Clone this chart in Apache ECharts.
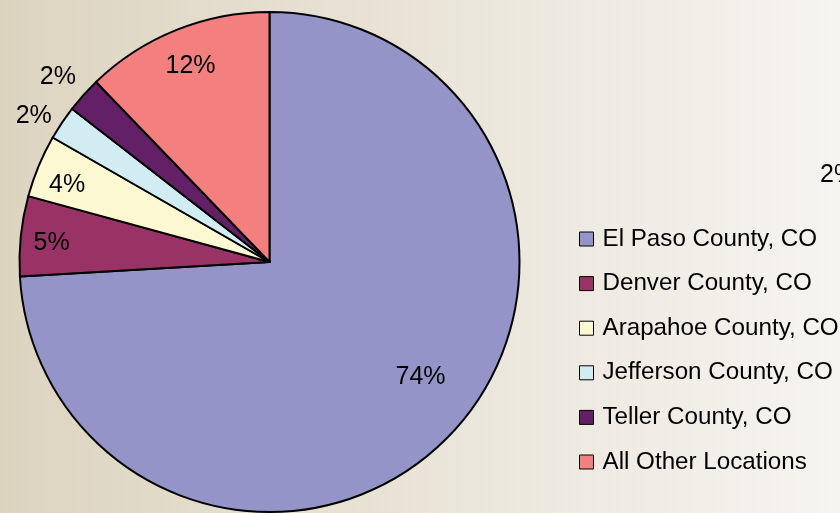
<!DOCTYPE html>
<html>
<head>
<meta charset="utf-8">
<script src="https://cdn.jsdelivr.net/npm/echarts@6/dist/echarts.min.js"></script>
<style>
html,body{margin:0;padding:0;}
#chart{width:840px;height:513px;}
</style>
</head>
<body>
<div id="chart"></div>
<script>
// ---- data ----
const categories = ['El Paso County, CO', 'Denver County, CO', 'Arapahoe County, CO', 'Jefferson County, CO', 'Teller County, CO', 'All Other Locations'];
const values = [74.06, 5.17, 4.05, 2.2, 2.3, 12.2];
const colors = ['#9494c8', '#993366', '#fcf9d2', '#d2ecf4', '#632066', '#f47f7f'];
const strayLabel = '2%';

// ---- layout (not data) ----
const CX = 269.5, CY = 262, R = 250;
const labelRadiusFactor = [0.76, 0.875, 0.866, 1.11, 1.124, 0.844];
const labelAngleShift = [-6, -1, -1.8, -2, -0.8, 0]; // degrees

const total = values.reduce((a, b) => a + b, 0);
const midAngles = [];
let acc = 0;
values.forEach(v => { midAngles.push((acc + v / 2) / total * 360); acc += v; });

const chart = echarts.init(document.getElementById('chart'));
chart.setOption({
  animation: false,
  backgroundColor: {
    type: 'linear', x: 0, y: 0, x2: 1, y2: 0,
    colorStops: [{offset: 0, color: '#ddd4c0'}, {offset: 1, color: '#f6f4f0'}]
  },
  legend: {
    orient: 'vertical',
    left: 579,
    top: 227,
    padding: 0,
    itemWidth: 14,
    itemHeight: 14,
    itemGap: 20.6,
    icon: 'rect',
    itemStyle: {borderColor: '#000', borderWidth: 1},
    textStyle: {fontFamily: 'Liberation Sans', fontSize: 24.2, color: '#000', lineHeight: 24, padding: [0, 0, 0, 4]},
    data: categories
  },
  graphic: [{
    type: 'text', left: 820, top: 163,
    style: {text: strayLabel, font: '25px "Liberation Sans"', fill: '#000'}
  }],
  series: [{
    type: 'pie',
    center: [CX, CY],
    radius: R,
    startAngle: 90,
    clockwise: true,
    avoidLabelOverlap: false,
    silent: true,
    itemStyle: {borderColor: '#000', borderWidth: 2},
    label: {
      show: true,
      position: 'inside',
      fontFamily: 'Liberation Sans',
      fontSize: 25,
      color: '#000',
      formatter: p => Math.round(p.percent) + '%'
    },
    labelLine: {show: false},
    labelLayout: function (p) {
      const i = p.dataIndex;
      const a = (midAngles[i] + labelAngleShift[i]) * Math.PI / 180;
      const d = R * labelRadiusFactor[i];
      return {
        x: CX + d * Math.sin(a),
        y: CY - d * Math.cos(a),
        align: 'center',
        verticalAlign: 'middle'
      };
    },
    data: categories.map((c, i) => ({name: c, value: values[i], itemStyle: {color: colors[i]}}))
  }]
});
</script>
</body>
</html>
